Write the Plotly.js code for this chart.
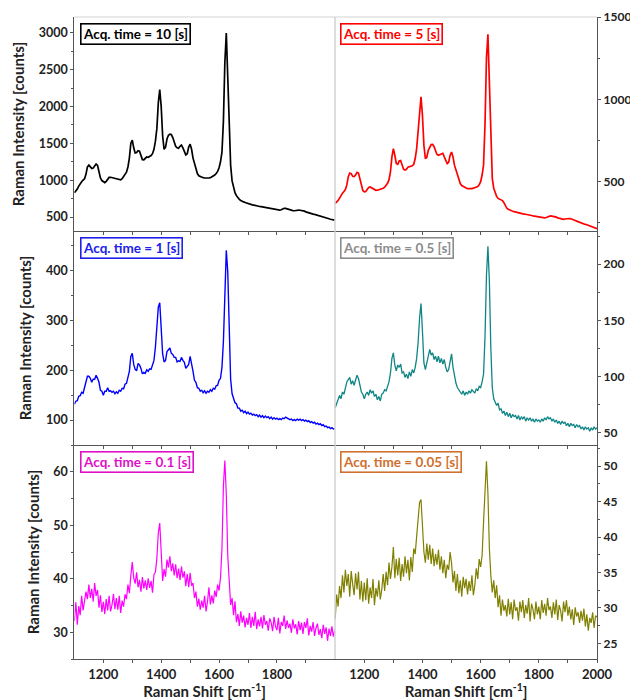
<!DOCTYPE html>
<html>
<head>
<meta charset="utf-8">
<script src="https://cdn.plot.ly/plotly-3.0.1.min.js"></script>
<style>html,body{margin:0;padding:0;background:#fff;}#chart{width:630px;height:700px;}</style>
</head>
<body>
<div id="chart"></div>
<script>
// Raman shift grid [cm^-1]
const ramanShift = [
1100,1105,1110,1115,1120,1125,1130,1135,1140,1145,
1150,1155,1160,1165,1170,1175,1180,1185,1190,1195,
1200,1205,1210,1215,1220,1225,1230,1235,1240,1245,
1250,1255,1260,1265,1270,1275,1280,1285,1290,1295,
1300,1305,1310,1315,1320,1325,1330,1335,1340,1345,
1350,1355,1360,1365,1370,1375,1380,1385,1390,1395,
1400,1405,1410,1415,1420,1425,1430,1435,1440,1445,
1450,1455,1460,1465,1470,1475,1480,1485,1490,1495,
1500,1505,1510,1515,1520,1525,1530,1535,1540,1545,
1550,1555,1560,1565,1570,1575,1580,1585,1590,1595,
1600,1605,1610,1615,1620,1625,1630,1635,1640,1645,
1650,1655,1660,1665,1670,1675,1680,1685,1690,1695,
1700,1705,1710,1715,1720,1725,1730,1735,1740,1745,
1750,1755,1760,1765,1770,1775,1780,1785,1790,1795,
1800,1805,1810,1815,1820,1825,1830,1835,1840,1845,
1850,1855,1860,1865,1870,1875,1880,1885,1890,1895,
1900,1905,1910,1915,1920,1925,1930,1935,1940,1945,
1950,1955,1960,1965,1970,1975,1980,1985,1990,1995,
2000];

// Acq. time = 10 s
const counts10s = [
830,850,880,920,955,980,1000,1020,1080,1180,
1205,1180,1160,1165,1195,1220,1200,1110,1030,995,
975,968,985,1020,1038,1040,1035,1028,1022,1012,
1005,1002,1005,1020,1045,1075,1110,1180,1300,1500,
1545,1440,1370,1375,1400,1395,1320,1280,1278,1300,
1315,1312,1320,1335,1360,1420,1530,1700,2050,2230,
2000,1600,1420,1450,1560,1610,1625,1620,1580,1520,
1460,1440,1435,1460,1478,1440,1380,1345,1360,1450,
1490,1420,1300,1230,1150,1090,1060,1048,1040,1034,
1030,1028,1027,1030,1035,1045,1055,1070,1090,1120,
1170,1250,1380,1800,2600,3000,2400,1750,1200,990,
890,830,790,760,740,725,712,705,698,690,
683,677,670,665,662,655,650,647,643,640,
636,632,630,627,624,620,617,612,607,603,
600,597,594,598,610,618,618,610,600,594,
588,586,585,590,596,594,592,590,588,580,
570,562,556,550,545,540,535,530,525,520,
515,508,500,495,490,483,476,470,465,461,
458];

// Acq. time = 5 s
const counts5s = [
368,375,385,400,418,430,440,452,480,530,
552,548,532,530,540,556,552,510,470,446,
438,440,452,464,467,463,456,450,447,448,
450,453,456,460,466,475,490,512,560,650,
700,660,610,605,625,628,600,575,570,575,
588,592,593,596,605,640,700,800,950,1015,
900,720,640,648,690,712,725,726,712,688,
665,660,663,670,672,650,625,610,618,660,
680,650,600,568,540,510,488,476,470,465,
461,458,457,457,458,460,462,465,470,480,
500,540,600,850,1250,1395,1050,700,520,460,
430,410,398,392,388,385,372,350,338,332,
327,324,320,318,315,312,310,308,306,304,
303,302,300,298,296,294,292,290,288,286,
284,282,281,280,280,282,286,290,292,290,
289,288,284,280,277,274,272,271,273,275,
276,276,274,272,268,264,260,256,252,249,
246,243,240,238,234,230,226,222,219,216,
214];

// Acq. time = 1 s
const counts1s = [
132,138,139,148,149,156,154,166,173,188,
188,184,176,182,182,190,184,176,160,158,
150,158,158,165,158,159,156,158,153,157,
154,160,158,164,163,172,174,188,198,228,
234,212,202,199,214,211,204,193,196,194,
201,198,203,202,212,220,247,283,327,336,
292,233,217,220,238,242,245,234,232,226,
226,217,219,218,226,220,216,204,207,212,
228,216,198,180,176,165,164,158,160,155,
159,154,158,156,161,158,164,162,169,170,
180,184,206,258,372,441,398,272,182,153,
145,135,133,124,124,118,120,115,118,113,
116,112,114,110,112,109,111,107,110,106,
109,105,108,105,107,103,106,102,105,102,
104,101,103,101,104,103,106,104,103,101,
102,99,101,99,102,100,102,99,101,98,
100,97,99,95,97,94,96,92,94,91,
93,89,91,87,88,85,86,83,85,82,
83];

// Acq. time = 0.5 s
const counts05s = [
72,76,78,83,80,86,84,90,95,97,
99,93,96,92,97,101,98,92,86,84,
80,84,86,83,88,85,87,82,84,79,
82,78,84,85,88,87,91,95,103,116,
121,110,105,110,108,111,103,104,99,102,
98,104,100,106,103,108,116,130,152,165,
140,112,106,113,120,124,119,121,115,118,
113,118,112,116,111,115,108,104,106,112,
120,108,100,94,90,88,86,84,87,83,
86,84,87,85,88,86,85,89,87,91,
90,95,102,135,190,216,185,125,90,80,
77,74,76,70,71,67,69,65,68,64,
67,63,66,64,65,62,65,61,64,62,
64,60,63,61,63,60,62,59,62,60,
61,59,62,60,63,61,64,62,63,60,
62,59,61,58,60,57,60,58,59,56,
58,55,58,56,57,54,57,55,56,53,
55,52,55,53,54,51,54,52,55,53,
54];

// Acq. time = 0.1 s
const counts01s = [
32.1,35.6,31.4,34.9,33.2,36.8,34.1,35.9,37.6,36.2,
38.9,36.4,38.1,35.7,39.2,36.8,37.9,34.6,36.9,33.8,
35.7,33.4,36.2,34.1,36.8,33.9,35.1,37.2,34.3,36.4,
34.2,36.8,33.6,35.9,34.8,37.1,36.2,38.9,37.3,40.6,
43.1,40.2,39.1,41.2,38.4,39.8,37.6,40.3,38.2,39.7,
37.9,40.1,38.3,39.6,37.4,40.8,41.2,43.8,48.6,50.4,
45.2,39.6,41.8,40.4,43.6,42.1,44.2,41.4,42.9,40.6,
42.7,40.1,41.9,39.8,42.3,40.2,41.4,38.6,40.9,38.4,
41.1,38.7,39.2,36.4,37.6,34.8,36.3,34.2,35.9,34.6,
36.8,33.9,35.7,38.4,35.2,36.9,35.4,37.8,36.6,38.9,
37.8,40.2,45.6,57.4,62.1,55.8,44.3,38.6,35.1,36.4,
33.2,35.8,31.9,33.4,31.2,33.9,31.8,33.1,30.9,32.7,
31.4,33.6,30.8,32.9,31.2,33.8,30.6,32.4,31.1,32.9,
30.7,33.2,31.4,32.1,30.3,32.6,31.8,30.2,32.9,31.1,
30.4,32.7,29.8,31.9,31.2,33.1,30.6,32.2,30.8,31.6,
29.9,32.4,30.7,31.5,29.6,32.1,30.4,31.8,29.7,31.9,
30.8,32.6,29.4,31.2,30.1,31.9,29.3,30.8,31.6,29.5,
30.6,28.9,31.4,29.7,30.9,28.4,30.7,29.3,31.1,29.2,
30.4];

// Acq. time = 0.05 s
const counts005s = [
28.4,31.9,30.2,33.1,31.4,34.6,32.2,35.4,33.1,34.8,
31.6,35.2,33.4,31.8,34.9,32.6,35.1,31.2,33.8,30.9,
33.6,31.1,34.2,30.6,32.9,31.4,34.1,30.4,32.8,31.6,
33.9,31.2,32.6,34.8,32.4,35.1,33.2,36.4,34.1,35.8,
38.6,34.2,36.9,34.6,37.1,33.8,36.2,34.4,37.3,34.9,
36.8,33.9,37.2,35.1,38.4,37.6,40.1,42.8,44.9,45.3,
41.6,37.9,36.4,39.1,36.8,38.9,36.2,38.4,35.9,37.6,
36.1,38.2,35.4,37.3,34.9,36.8,34.2,36.1,35.4,37.9,
36.3,33.6,35.2,32.4,34.8,32.1,33.9,31.6,34.4,32.8,
34.1,31.9,33.8,32.4,34.6,31.8,33.2,35.6,34.1,36.9,
35.8,37.4,42.1,47.6,50.7,46.2,38.4,34.6,32.2,33.9,
31.4,33.2,30.1,31.8,28.9,31.2,29.6,30.4,28.8,31.3,
29.1,30.8,28.4,31.2,29.6,30.1,28.2,30.9,29.4,31.1,
28.6,30.4,29.2,31.4,28.1,30.6,29.8,28.4,30.9,29.1,
30.2,28.4,31.1,29.3,30.6,28.9,31.4,29.7,30.2,28.6,
30.8,29.1,31.2,28.3,30.4,29.6,28.1,30.9,29.4,31.1,
28.9,30.2,28.4,29.8,27.6,30.1,28.8,29.4,27.9,29.6,
28.2,29.9,27.4,29.1,26.8,28.6,27.9,29.4,27.2,28.9,
28.7];

const panelLabels = ["Acq. time = 10 [s]","Acq. time = 5 [s]","Acq. time = 1 [s]","Acq. time = 0.5 [s]","Acq. time = 0.1 [s]","Acq. time = 0.05 [s]"];
const yTitle = "Raman Intensity [counts]";
const xTitle = "Raman Shift [cm<sup>-1</sup>]";
const xLabelsLeft = [1200,1400,1600,1800];
const xLabelsRight = [1200,1400,1600,1800,2000];
const xMinorTicks = [1200,1300,1400,1500,1600,1700,1800,1900];

// styles
const series = [counts10s, counts5s, counts1s, counts05s, counts01s, counts005s];
const lineColors = ["#000000","#ff0000","#0000ff","#108585","#ff00ff","#808000"];
const labelColors = ["#000000","#ff0000","#2020e8","#8c8c8c","#e010c8","#d0702e"];
const lineWidths = [1.7,1.7,1.4,1.3,1.2,1.2];
const yRanges = [[310,3217],[200,1500],[50,480],[38.7,229.7],[25,65],[22.8,53]];
const yTickVals = [[500,1000,1500,2000,2500,3000],[500,1000,1500],[100,200,300,400],[50,100,150,200],[30,40,50,60],[25,30,35,40,45,50]];
const yMinor = [250,250,50,25,5,2.5];

const W = 630, H = 700;
const colPx = [[74.4,334.8],[335.2,597]];
const rowPx = [[17,231],[231,445],[445,659]];
const fx = p => p / W;
const fy = p => 1 - p / H;

const FONT = "Lato, Open Sans, Liberation Sans, sans-serif";
const textCol = "#222222";
const axisCol = "#555555";

const data = [];
const layout = {
  width: W, height: H,
  margin: {l:0, r:0, t:0, b:0},
  paper_bgcolor: "#ffffff", plot_bgcolor: "#ffffff",
  showlegend: false,
  font: {family: FONT, size: 12, color: textCol},
  annotations: [],
  shapes: []
};

for (let i = 0; i < 6; i++) {
  const row = Math.floor(i / 2), col = i % 2;
  const n = i + 1;
  const xa = n === 1 ? "x" : "x" + n;
  const ya = n === 1 ? "y" : "y" + n;
  data.push({
    type: "scatter", mode: "lines",
    x: ramanShift, y: series[i],
    xaxis: xa, yaxis: ya,
    line: {color: lineColors[i], width: lineWidths[i]},
    hoverinfo: "skip"
  });
  const bottom = row === 2;
  const xk = n === 1 ? "xaxis" : "xaxis" + n;
  const yk = n === 1 ? "yaxis" : "yaxis" + n;
  layout[xk] = {
    domain: [fx(colPx[col][0]), fx(colPx[col][1])],
    anchor: ya,
    range: [1100, 2000],
    showgrid: false, zeroline: false,
    showline: true, linecolor: axisCol, linewidth: 1.2,
    ticks: "outside", ticklen: 3, tickwidth: 1, tickcolor: axisCol,
    tickmode: "array",
    tickvals: bottom ? (col === 0 ? xLabelsLeft : xLabelsRight) : xMinorTicks,
    showticklabels: bottom,
    tickfont: {family: FONT, size: 13, color: textCol, weight: "bold"},
    minor: bottom ? {tickmode: "array", tickvals: xMinorTicks, ticks: "outside", ticklen: 3, tickcolor: axisCol} : undefined,
    fixedrange: true
  };
  if (bottom) {
    layout[xk].title = {text: xTitle, font: {family: FONT, size: 15, color: textCol, weight: "bold"}, standoff: 2};
  }
  layout[yk] = {
    domain: [fy(rowPx[row][1]), fy(rowPx[row][0])],
    anchor: xa,
    side: col === 0 ? "left" : "right",
    range: yRanges[i],
    showgrid: false, zeroline: false,
    showline: true, linecolor: axisCol, linewidth: 1.2,
    ticks: "outside", ticklen: 3, tickwidth: 1, tickcolor: axisCol,
    tickmode: "array", tickvals: yTickVals[i],
    tickfont: {family: FONT, size: col === 0 ? 12.5 : 12, color: textCol, weight: "bold"},
    minor: {dtick: yMinor[i], ticks: "outside", ticklen: 2, tickcolor: axisCol},
    fixedrange: true
  };
  if (col === 0) {
    layout[yk].title = {text: yTitle, font: {family: FONT, size: 15, color: textCol, weight: "bold"}, standoff: 10};
  }
  layout.annotations.push({
    text: panelLabels[i],
    xref: xa + " domain", yref: ya + " domain",
    x: 0.02, y: 0.972, xanchor: "left", yanchor: "top",
    showarrow: false,
    font: {family: FONT, size: 13.5, color: labelColors[i], weight: "bold"},
    bordercolor: labelColors[i], borderwidth: 1.6, borderpad: 1.5,
    bgcolor: "#ffffff"
  });
}

// light frame: top edge and central divider
layout.shapes.push({type: "line", xref: "paper", yref: "paper",
  x0: fx(colPx[0][0]), x1: fx(colPx[1][1]), y0: fy(rowPx[0][0]), y1: fy(rowPx[0][0]),
  line: {color: "#d4d4d4", width: 1.2}});
layout.shapes.push({type: "line", xref: "paper", yref: "paper",
  x0: fx(335), x1: fx(335), y0: fy(rowPx[0][0]), y1: fy(rowPx[2][1]),
  line: {color: "#cfcfcf", width: 1.4}});

Plotly.newPlot("chart", data, layout, {staticPlot: true, displayModeBar: false});
</script>
</body>
</html>
